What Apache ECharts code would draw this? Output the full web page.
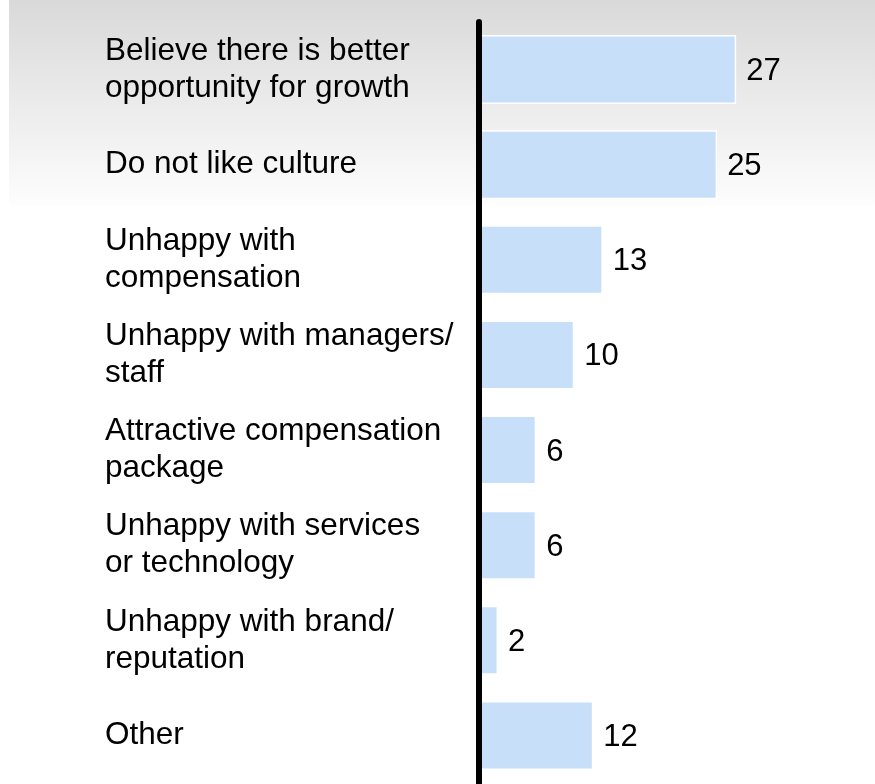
<!DOCTYPE html>
<html>
<head>
<meta charset="utf-8">
<script src="https://cdn.jsdelivr.net/npm/echarts@6/dist/echarts.min.js"></script>
<style>
  html, body { margin: 0; padding: 0; background: #ffffff; }
  #chart { width: 875px; height: 784px; }
</style>
</head>
<body>
<div id="chart"></div>
<script>
// Reasons for leaving, count of respondents
var reasons = [
  'Believe there is better\nopportunity for growth',
  'Do not like culture',
  'Unhappy with\ncompensation',
  'Unhappy with managers/\nstaff',
  'Attractive compensation\npackage',
  'Unhappy with services\nor technology',
  'Unhappy with brand/\nreputation',
  'Other'
];
var counts = [27, 25, 13, 10, 6, 6, 2, 12];

var FONT = '"Liberation Sans", Arial, Helvetica, sans-serif';

var chart = echarts.init(document.getElementById('chart'), null, { renderer: 'canvas' });

chart.setOption({
  backgroundColor: '#ffffff',
  animation: false,
  graphic: [{
    // soft grey band fading to white behind the top rows
    type: 'rect',
    z: -10,
    silent: true,
    shape: { x: 9, y: 0, width: 866, height: 205 },
    style: {
      fill: {
        type: 'linear', x: 0, y: 0, x2: 0, y2: 1,
        colorStops: [
          { offset: 0, color: '#d9d9d9' },
          { offset: 1, color: '#fdfdfd' }
        ]
      }
    }
  }],
  grid: { left: 479, top: 22, width: 381, height: 761, containLabel: false },
  xAxis: {
    type: 'value',
    min: 0,
    max: 40,
    show: false
  },
  yAxis: {
    type: 'category',
    data: reasons,
    inverse: true,
    z: 5,
    axisLine: { show: true, lineStyle: { color: '#000000', width: 6 } },
    axisTick: { show: false },
    splitLine: { show: false },
    axisLabel: {
      align: 'left',
      margin: 374,
      padding: [6, 0, 0, 0],
      color: '#000000',
      fontFamily: FONT,
      fontSize: 31.5,
      lineHeight: 37
    }
  },
  series: [{
    type: 'bar',
    data: counts,
    barWidth: 69,
    itemStyle: {
      color: '#c7dff8',
      borderColor: '#ffffff',
      borderWidth: 1.5
    },
    label: {
      show: true,
      position: 'right',
      distance: 10,
      offset: [0, 2],
      color: '#000000',
      fontFamily: FONT,
      fontSize: 31
    }
  }]
});
</script>
</body>
</html>
